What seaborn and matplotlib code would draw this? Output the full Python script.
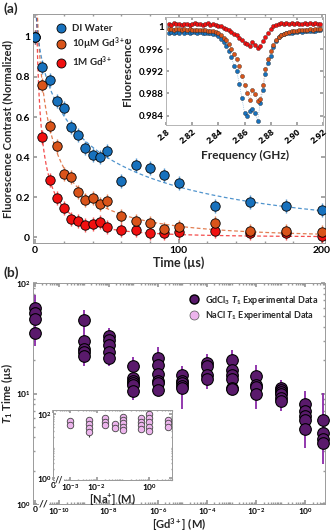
import numpy as np
import pandas as pd
import seaborn as sns
import matplotlib
matplotlib.use('Agg')
import matplotlib.pyplot as plt
from matplotlib.lines import Line2D
from matplotlib.ticker import FixedLocator, FixedFormatter, NullFormatter, LogLocator, MultipleLocator

# ---- panel (a): T1 decay curves ----
time_us = [0, 5, 10, 15, 20, 25, 30, 35, 40, 45, 50, 60, 70, 80, 90, 100, 125, 150, 175, 200]
di_water = [1.0, 0.85, 0.785, 0.68, 0.645, 0.55, 0.51, 0.443, 0.41, 0.40, 0.43, 0.28, 0.36, 0.343,
            0.31, 0.268, 0.155, 0.177, 0.157, 0.135]
gd_10um = [1.0, 0.76, 0.557, 0.455, 0.313, 0.30, 0.223, 0.185, 0.193, 0.165, 0.18, 0.105, 0.082,
           0.072, 0.038, 0.048, 0.068, 0.03, 0.03, 0.027]
gd_1m = [1.0, 0.50, 0.285, 0.197, 0.147, 0.09, 0.08, 0.06, 0.063, 0.077, 0.048, 0.035, 0.037,
         0.02, 0.02, 0.027, 0.03, 0.02, 0.02, 0.007]
contrast_err = 0.035

# ---- panel (a) inset: ODMR spectra ----
freq_ghz = [round(2.802 + 0.002 * i, 3) for i in range(59)]
odmr_di = [0.9990, 0.9991, 0.9989, 0.9991, 0.9990, 0.9992, 0.9990, 0.9991, 0.9990, 0.9991,
           0.9991, 0.9990, 0.9991, 0.9990, 0.9990, 0.9990, 0.9989, 0.9988, 0.9987, 0.9984,
           0.9979, 0.9972, 0.9966, 0.9957, 0.9945, 0.9930, 0.9921, 0.9897, 0.9872, 0.9845,
           0.9840, 0.9849, 0.9852, 0.9844, 0.9831, 0.9862, 0.9886, 0.9915, 0.9935, 0.9948,
           0.9964, 0.9975, 0.9982, 0.9986, 0.9988, 0.9989, 0.9990, 0.9990, 0.9991, 0.9991,
           0.9992, 0.9991, 0.9992, 0.9992, 0.9993, 0.9992, 0.9993, 0.9994, 0.9994]
odmr_10um = [0.9996, 0.9997, 0.9995, 0.9996, 0.9996, 0.9995, 0.9996, 0.9995, 0.9996, 0.9995,
             0.9995, 0.9994, 0.9995, 0.9994, 0.9994, 0.9993, 0.9993, 0.9992, 0.9991, 0.9989,
             0.9986, 0.9981, 0.9976, 0.9969, 0.9961, 0.9952, 0.9942, 0.9929, 0.9912, 0.9896,
             0.9881, 0.9868, 0.9886, 0.9879, 0.9866, 0.9870, 0.9895, 0.9925, 0.9942, 0.9956,
             0.9968, 0.9977, 0.9982, 0.9985, 0.9988, 0.9990, 0.9991, 0.9992, 0.9993, 0.9993,
             0.9994, 0.9994, 0.9995, 0.9995, 0.9996, 0.9995, 0.9996, 0.9996, 0.9997]
odmr_1m = [1.0006, 1.0004, 1.0007, 1.0005, 1.0006, 1.0004, 1.0006, 1.0005, 1.0004, 1.0006,
           1.0007, 1.0005, 1.0006, 1.0004, 1.0005, 1.0007, 1.0004, 1.0005, 1.0003, 1.0002,
           1.0001, 0.9999, 0.9997, 0.9994, 0.9991, 0.9988, 0.9985, 0.9981, 0.9976, 0.9971,
           0.9970, 0.9966, 0.9972, 0.9968, 0.9962, 0.9966, 0.9974, 0.9982, 0.9990, 0.9997,
           1.0002, 1.0004, 1.0005, 1.0007, 1.0006, 1.0008, 1.0006, 1.0007, 1.0005, 1.0008,
           1.0006, 1.0005, 1.0007, 1.0006, 1.0007, 1.0005, 1.0007, 1.0006, 1.0006]

# ---- panel (b): T1 vs Gd concentration ----
gd_conc = [0, 1e-9, 1e-8, 1e-7, 1e-6, 1e-5, 1e-4, 1e-3, 1e-2, 1e-1, 1, 5]
gd_t1 = [[60, 53, 47, 35], [46, 30, 25.5, 24, 22], [33.5, 30.2, 27.3, 23.9, 20.8],
         [17.8, 13.8, 12.9, 12.5, 12, 10.5], [21, 18, 15, 13, 12.5, 10.7],
         [14.8, 12.9, 12.5, 11.7, 11.3], [18.8, 17.6, 14.8, 13.4],
         [19.9, 16.4, 14.8, 13.5, 11.3, 10.9], [14.5, 12, 11.5, 10],
         [11.3, 10.8, 10.3, 9.8, 9.2, 8.6], [8.0, 7.0, 6.3, 5.7, 4.8], [5.7, 4.4, 3.9, 3.6]]
gd_err_lo = [27, 17.7, 17.6, 8.7, 9.6, 7.2, 10.9, 9.8, 7.2, 7.0, 3.2, 2.3]
gd_err_hi = [78, 57.5, 39, 21.2, 26.5, 17.6, 23, 24.6, 18, 13.3, 10.6, 10.2]

# ---- panel (b) inset: NaCl control ----
na_conc = [1e-3, 5e-3, 2e-2, 5e-2, 1e-1, 5e-1, 1, 5]
na_t1 = [[62, 46], [66, 49, 37, 29], [79, 56, 47], [49, 38], [85, 66, 52, 41, 32],
         [75, 59, 47, 35], [100, 75, 56, 41, 31], [66, 52, 39]]
na_err_lo = [40, 19, 42, 35, 29, 32, 28, 35]
na_err_hi = [70, 75, 90, 55, 95, 85, 110, 75]

zero_pos = 10 ** -11.0   # where "0 M" sits on the broken log axis

c_blue, c_orange, c_red = '#1771bd', '#d9541a', '#f01010'
c_purple, c_pink = '#5a1a6c', '#ecb4ec'
spine_col = '#9a9a9a'

sns.set_theme(style='ticks')
plt.rcParams['font.family'] = ['Lato', 'DejaVu Sans']
plt.rcParams['font.weight'] = 'bold'
plt.rcParams['mathtext.fontset'] = 'custom'
plt.rcParams['mathtext.rm'] = 'Lato:bold'
plt.rcParams['mathtext.it'] = 'Lato:bold:italic'
plt.rcParams['mathtext.bf'] = 'Lato:bold'
plt.rcParams['xtick.direction'] = 'in'
plt.rcParams['ytick.direction'] = 'in'
plt.rcParams['axes.linewidth'] = 0.7
plt.rcParams['axes.edgecolor'] = spine_col
plt.rcParams['xtick.color'] = spine_col
plt.rcParams['ytick.color'] = spine_col
plt.rcParams['xtick.labelcolor'] = 'black'
plt.rcParams['ytick.labelcolor'] = 'black'


def fit_decay(t, y):
    # stretched exponential A*exp(-(t/T)^b), fitted by grid search (t=0 left out)
    t = np.asarray(t, float)[1:]
    y = np.asarray(y, float)[1:]
    best = None
    for T in np.logspace(0, 3.5, 240):
        for b in np.linspace(0.2, 1.3, 111):
            f = np.exp(-(t / T) ** b)
            A = f @ y / (f @ f)
            sse = np.sum((A * f - y) ** 2)
            if best is None or sse < best[0]:
                best = (sse, A, T, b)
    return best[1:]


fig = plt.figure(figsize=(3.32, 5.32), dpi=100)

# ================= panel (a) =================
ax = fig.add_axes([0.0994, 0.5432, 0.8795, 0.4305])
t_fine = np.linspace(0.01, 202, 800)
series = [('1M Gd$^{3+}$', gd_1m, c_red), ('10µM Gd$^{3+}$', gd_10um, c_orange),
          ('DI Water', di_water, c_blue)]
for name, vals, col in series:
    A, T, b = fit_decay(time_us, vals)
    sns.lineplot(x=t_fine, y=A * np.exp(-(t_fine / T) ** b), ax=ax, color=col,
                 linestyle=(0, (3, 2)), lw=0.9, alpha=0.75, zorder=1)
handles = {}
for name, vals, col in series:
    ax.errorbar(time_us, vals, yerr=contrast_err, fmt='none', ecolor=col, elinewidth=1.0,
                alpha=0.7, zorder=2)
    sns.scatterplot(x=time_us, y=vals, ax=ax, color=col, s=46, edgecolor='black',
                    linewidth=0.6, zorder=3)
    handles[name] = Line2D([], [], marker='o', ls='', markerfacecolor=col,
                           markeredgecolor='black', markeredgewidth=0.6, markersize=6.5)
order = ['DI Water', '10µM Gd$^{3+}$', '1M Gd$^{3+}$']
ax.legend([handles[k] for k in order], order, loc='upper left', bbox_to_anchor=(0.04, 0.985),
          frameon=False, fontsize=7, handletextpad=0.1, labelspacing=0.25, borderpad=0.2)
ax.set_xlim(-1.5, 202)
ax.set_ylim(-0.03, 1.115)
ax.xaxis.set_major_locator(FixedLocator([0, 100, 200]))
ax.xaxis.set_minor_locator(MultipleLocator(20))
ax.yaxis.set_major_locator(FixedLocator([0, 0.2, 0.4, 0.6, 0.8, 1.0]))
ax.yaxis.set_major_formatter(FixedFormatter(['0', '0.2', '0.4', '0.6', '0.8', '1']))
ax.tick_params(which='both', top=True, right=True, labelsize=7.5, length=3, pad=2)
ax.tick_params(which='minor', length=1.5)
ax.set_xlabel('Time (µs)', fontsize=9, fontweight='bold', labelpad=1)
ax.set_ylabel('Fluorescence Contrast (Normalized)', fontsize=8, fontweight='bold', labelpad=2)
fig.text(0.012, 0.984, '(a)', fontsize=10, fontweight='bold', va='center')

# inset of (a)
axi = fig.add_axes([0.5, 0.765, 0.473, 0.203])
odmr = [(odmr_di, c_blue), (odmr_10um, c_orange), (odmr_1m, c_red)]
for vals, col in odmr:
    sns.lineplot(x=freq_ghz, y=vals, ax=axi, color=col, lw=0.5, linestyle=':', alpha=0.6)
    sns.scatterplot(x=freq_ghz, y=vals, ax=axi, color=col, s=9, edgecolor='#222222',
                    linewidth=0.25, zorder=3)
axi.set_xlim(2.8, 2.92)
axi.set_ylim(0.9823, 1.0018)
xt = [2.8, 2.82, 2.84, 2.86, 2.88, 2.90, 2.92]
axi.xaxis.set_major_locator(FixedLocator(xt))
axi.xaxis.set_major_formatter(FixedFormatter(['2.8', '2.82', '2.84', '2.86', '2.88', '2.90', '2.92']))
yt = [0.984, 0.988, 0.992, 0.996, 1.0]
axi.yaxis.set_major_locator(FixedLocator(yt))
axi.yaxis.set_major_formatter(FixedFormatter(['0.984', '0.988', '0.992', '0.996', '1']))
axi.tick_params(axis='y', right=True, labelsize=7, length=2.5, pad=1.5)
axi.tick_params(axis='x', top=True, length=2.5, pad=1.5)
plt.setp(axi.get_xticklabels(), rotation=40, ha='right', rotation_mode='anchor',
         family='Open Sans', fontsize=6.5, fontweight='bold')
axi.set_xlabel('Frequency (GHz)', fontsize=8.5, fontweight='bold', labelpad=3)
axi.set_ylabel('Fluorescence', fontsize=8.5, fontweight='bold', labelpad=4)
for s in axi.spines.values():
    s.set_color('#b5b5b5')

# ================= panel (b) =================
bx = fig.add_axes([0.0994, 0.0526, 0.8795, 0.4154])
gd_x = [zero_pos if c == 0 else c for c in gd_conc]
gd_df = pd.DataFrame([(x, v) for x, vals in zip(gd_x, gd_t1) for v in vals], columns=['conc', 't1'])
bx.vlines(gd_x, gd_err_lo, gd_err_hi, color='#8a2aa8', lw=1.3, zorder=2)
sns.scatterplot(data=gd_df, x='conc', y='t1', ax=bx, color=c_purple, s=70, edgecolor='black',
                linewidth=0.8, zorder=3, clip_on=False)
bx.set_xscale('log')
bx.set_yscale('log')
bx.set_xlim(10 ** -11.07, 10 ** 0.8)
bx.set_ylim(1, 100)
dec = [1e-10, 1e-8, 1e-6, 1e-4, 1e-2, 1e0]
bx.xaxis.set_major_locator(FixedLocator([zero_pos] + dec))
bx.xaxis.set_major_formatter(FixedFormatter(['0', '$10^{-10}$', '$10^{-8}$', '$10^{-6}$',
                                             '$10^{-4}$', '$10^{-2}$', '$10^{0}$']))
bx.xaxis.set_minor_locator(LogLocator(base=10, subs=np.arange(1, 10), numticks=200))
bx.xaxis.set_minor_formatter(NullFormatter())
bx.yaxis.set_major_locator(FixedLocator([1, 10, 100]))
bx.yaxis.set_major_formatter(FixedFormatter(['$10^{0}$', '$10^{1}$', '$10^{2}$']))
bx.yaxis.set_minor_locator(LogLocator(base=10, subs=np.arange(2, 10), numticks=20))
bx.yaxis.set_minor_formatter(NullFormatter())
bx.tick_params(which='both', top=True, right=True, labelsize=6, pad=1.5)
bx.tick_params(which='major', length=3)
bx.tick_params(which='minor', length=1.5)
bx.set_xlabel('[Gd$^{3+}$] (M)', fontsize=8, fontweight='bold')
bx.xaxis.set_label_coords(0.5, -0.056)
bx.set_ylabel('$T_1$ Time (µs)', fontsize=8, fontweight='bold')
bx.yaxis.set_label_coords(-0.06, 0.5)
bx.text(10 ** -10.62, 1, '//', fontsize=7.5, fontweight='bold', ha='center', va='center',
        bbox=dict(facecolor='white', edgecolor='none', pad=0.3))
leg_h = [Line2D([], [], marker='o', ls='', markerfacecolor=c_purple, markeredgecolor='black',
                markersize=6.5),
         Line2D([], [], marker='o', ls='', markerfacecolor=c_pink, markeredgecolor='#555555',
                markeredgewidth=0.5, markersize=6.5)]
bx.legend(leg_h, ['GdCl$_3$ $T_1$ Experimental Data', 'NaCl $T_1$ Experimental Data'],
          loc='upper right', bbox_to_anchor=(1.0, 0.985), frameon=False, fontsize=6.5,
          handletextpad=0.2, labelspacing=0.3, borderpad=0.3)
fig.text(0.012, 0.488, '(b)', fontsize=10, fontweight='bold', va='center')

# inset of (b)
bi = fig.add_axes([0.16, 0.097, 0.358, 0.1316])
na_df = pd.DataFrame([(x, v) for x, vals in zip(na_conc, na_t1) for v in vals], columns=['conc', 't1'])
bi.vlines(na_conc, na_err_lo, na_err_hi, color='#333333', lw=0.8, zorder=2)
sns.scatterplot(data=na_df, x='conc', y='t1', ax=bi, color=c_pink, s=22, edgecolor='#444444',
                linewidth=0.6, zorder=3)
bi.set_xscale('log')
bi.set_yscale('log')
na_left = 10 ** -3.65
bi.set_xlim(na_left, 10 ** 0.86)
bi.set_ylim(10 ** -0.06, 10 ** 2.12)
bi.xaxis.set_major_locator(FixedLocator([na_left, 1e-3, 1e-2, 1e0]))
bi.xaxis.set_major_formatter(FixedFormatter(['0', '$10^{-3}$', '$10^{-2}$', '$10^{0}$']))
bi.xaxis.set_minor_formatter(NullFormatter())
bi.yaxis.set_major_locator(FixedLocator([1, 100]))
bi.yaxis.set_major_formatter(FixedFormatter(['$10^{0}$', '$10^{2}$']))
bi.yaxis.set_minor_formatter(NullFormatter())
bi.tick_params(which='both', top=True, right=True, labelsize=6, pad=1, length=2)
bi.tick_params(which='minor', length=1)
bi.set_xlabel('[Na$^{+}$] (M)', fontsize=8, fontweight='bold', labelpad=-1)
bi.set_ylabel('')
bi.text(10 ** -3.42, 10 ** -0.06, '//', fontsize=6.5, fontweight='bold', ha='center', va='center',
        bbox=dict(facecolor='white', edgecolor='none', pad=0.2))
for s in bi.spines.values():
    s.set_color('#999999')

fig.savefig('out.png', dpi=100)
